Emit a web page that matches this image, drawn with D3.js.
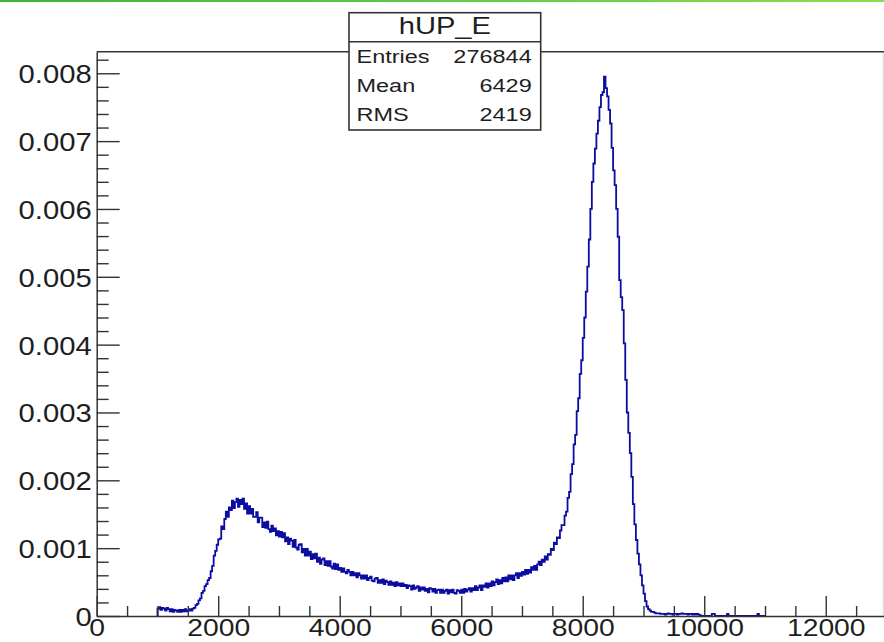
<!DOCTYPE html>
<html><head><meta charset="utf-8">
<script src="https://cdn.jsdelivr.net/npm/d3@7"></script>
<style>
body{margin:0;background:#fff;}
svg{display:block;}
text{font-family:"Liberation Sans",Arial,Helvetica,sans-serif;fill:#1e1e1e;}
</style>
</head><body><svg id="c" width="884" height="642"></svg>
<script>
// ---------- data ----------
const histTitle = "hUP_E";
const statLabels = ["Entries", "Mean", "RMS"];
const statValues = ["276844", "6429", "2419"];

const binStart = 1000;      // lower edge of first bin
const binWidth = 25;        // bin width
const valueUnit = 1e-5;     // binValues are in units of 1e-5

const binValues = [
  // 1000 - 1975
  11,13,9,12,11,8,12,10,7,10,6,9,8,6,9,6,9,7,10,7,8,10,8,11,12,16,18,23,26,34,37,44,47,53,56,66,74,89,96,105,
  // 2000 - 2975
  113,114,132,128,143,154,146,160,156,170,159,168,173,161,171,165,173,158,166,151,162,151,158,146,146,153,138,145,145,131,138,130,139,128,124,133,125,129,119,125,
  // 3000 - 3975
  117,124,116,122,110,116,106,114,111,102,112,101,98,105,106,94,99,89,99,89,95,84,91,85,92,80,86,77,83,85,75,81,74,81,73,70,77,69,76,68,
  // 4000 - 4975
  71,65,70,65,63,68,65,60,65,60,63,57,63,60,55,60,55,60,53,56,58,52,51,55,56,49,53,49,54,47,52,50,46,51,46,49,44,50,45,48,
  // 5000 - 5975
  44,48,44,46,41,45,44,39,45,40,42,44,37,42,39,42,37,40,35,41,40,36,40,34,38,39,34,39,34,37,39,33,38,35,39,34,33,38,37,34,
  // 6000 - 6975
  39,34,40,36,39,41,36,41,38,44,38,42,45,38,45,43,48,42,48,44,51,45,50,54,47,53,48,56,51,57,51,60,54,60,53,60,63,56,63,59,
  // 7000 - 7975
  65,61,68,62,68,64,72,68,74,68,76,80,75,83,80,88,83,91,90,99,97,108,106,116,115,126,134,134,148,154,174,183,209,224,253,267,302,321,357,377,
  // 8000 - 8975
  410,440,478,515,555,600,640,667,689,711,730,750,768,772,795,778,766,746,726,690,657,635,600,559,495,470,451,402,348,300,270,240,205,165,135,112,92,76,60,45,
  // 9000 - 9975
  33,22,14,10,8,6,6,5,4,4,4,3,3,3,2,3,4,3,3,2,3,3,2,3,3,4,3,3,3,2,3,3,2,3,2,3,2,1,0,0,
  // 10000 - 10975
  0,0,0,0,0,3,3,0,0,0,0,0,0,0,0,3,0,0,0,0,0,0,0,0,0,0,0,0,0,0,0,0,0,0,0,3,0,0,0,0
];

const xDomain = [0, 13000];
const yDomain = [0, 0.008318];
const xMajorTicks = [0, 2000, 4000, 6000, 8000, 10000, 12000];
const xTickLabels = ["0", "2000", "4000", "6000", "8000", "10000", "12000"];
const xMinorStep = 500;
const yMajorTicks = [0, 0.001, 0.002, 0.003, 0.004, 0.005, 0.006, 0.007, 0.008];
const yTickLabels = ["0", "0.001", "0.002", "0.003", "0.004", "0.005", "0.006", "0.007", "0.008"];
const yMinorStep = 0.0002;

// ---------- layout ----------
const W = 884, H = 642;
const frame = {left: 96.7, right: 886.5, top: 51.7, bottom: 616};
const axisColor = "#333";
const lineColor = "#0c0ca0";

const svg = d3.select("#c");

// green bar at top
const defs = svg.append("defs");
const grad = defs.append("linearGradient").attr("id", "gbar").attr("x1", "0").attr("x2", "1");
grad.append("stop").attr("offset", "0").attr("stop-color", "#3cb43a");
grad.append("stop").attr("offset", "1").attr("stop-color", "#86e052");
svg.append("rect").attr("x", 0).attr("y", 0).attr("width", W).attr("height", 2).attr("fill", "url(#gbar)");

const x = d3.scaleLinear().domain(xDomain).range([frame.left, frame.right]);
const y = d3.scaleLinear().domain(yDomain).range([frame.bottom, frame.top]);

// histogram
const pts = [[binStart, 0]];
binValues.forEach((v, i) => pts.push([binStart + i * binWidth, v * valueUnit]));
pts.push([binStart + binValues.length * binWidth, binValues[binValues.length - 1] * valueUnit]);

const line = d3.line().x(d => x(d[0])).y(d => y(d[1])).curve(d3.curveStepAfter);
svg.append("path").datum(pts)
  .attr("d", line)
  .attr("fill", "none")
  .attr("stroke", lineColor)
  .attr("stroke-width", 1.8)
  .attr("stroke-linejoin", "miter");

// frame top & right
svg.append("line").attr("x1", frame.left).attr("x2", frame.right)
  .attr("y1", frame.top).attr("y2", frame.top).attr("stroke", axisColor).attr("stroke-width", 1.5);
svg.append("line").attr("x1", 883.3).attr("x2", 883.3)
  .attr("y1", frame.top + 1).attr("y2", frame.bottom).attr("stroke", "#d4d4d4").attr("stroke-width", 1);

// x axis minor ticks
const xMinor = d3.range(xDomain[0], xDomain[1] + 1, xMinorStep).filter(v => !xMajorTicks.includes(v));
svg.append("g").attr("transform", `translate(0,${frame.bottom})`)
  .call(d3.axisBottom(x).tickValues(xMinor).tickSize(-10).tickSizeOuter(0).tickFormat(""))
  .call(g => { g.select(".domain").remove(); g.selectAll("line").attr("stroke", axisColor).attr("stroke-width", 1.4); });

// x axis major
const gx = svg.append("g").attr("transform", `translate(0,${frame.bottom})`)
  .call(d3.axisBottom(x).tickValues(xMajorTicks).tickSize(-20).tickSizeOuter(0).tickPadding(4)
    .tickFormat((d, i) => xTickLabels[i]));
gx.attr("font-size", 23).attr("font-family", null);
gx.select(".domain").attr("stroke", axisColor).attr("stroke-width", 1.5);
gx.selectAll("line").attr("stroke", axisColor).attr("stroke-width", 1.4);
gx.selectAll("text").attr("transform", "scale(1.23,1)").attr("fill", "#1e1e1e");

// y axis minor ticks
const yMinor = d3.range(0, yDomain[1], yMinorStep).filter(v => !yMajorTicks.some(t => Math.abs(t - v) < 1e-9));
svg.append("g").attr("transform", `translate(${frame.left},0)`)
  .call(d3.axisLeft(y).tickValues(yMinor).tickSize(-12).tickSizeOuter(0).tickFormat(""))
  .call(g => { g.select(".domain").remove(); g.selectAll("line").attr("stroke", axisColor).attr("stroke-width", 1.4); });

// y axis major
const gy = svg.append("g").attr("transform", `translate(${frame.left},0)`)
  .call(d3.axisLeft(y).tickValues(yMajorTicks).tickSize(-23).tickSizeOuter(0).tickPadding(4.3)
    .tickFormat((d, i) => yTickLabels[i]));
gy.attr("font-size", 25).attr("font-family", null);
gy.select(".domain").attr("stroke", axisColor).attr("stroke-width", 1.5);
gy.selectAll("line").attr("stroke", axisColor).attr("stroke-width", 1.4);
gy.selectAll("text").attr("transform", "scale(1.17,1)").attr("dy", "0.38em").attr("fill", "#1e1e1e");

// stats box
const box = {x: 349, y: 12.7, w: 191.7, h: 117.3, titleH: 29};
const sb = svg.append("g");
sb.append("rect").attr("x", box.x).attr("y", box.y).attr("width", box.w).attr("height", box.h)
  .attr("fill", "#fff").attr("stroke", axisColor).attr("stroke-width", 1.6);
sb.append("line").attr("x1", box.x).attr("x2", box.x + box.w)
  .attr("y1", box.y + box.titleH).attr("y2", box.y + box.titleH)
  .attr("stroke", axisColor).attr("stroke-width", 1.5);
sb.append("text").attr("transform", `translate(${box.x + box.w / 2},34) scale(1.24,1)`)
  .attr("text-anchor", "middle").attr("font-size", 23.5).text(histTitle);
const rowY = [63, 92, 121];
statLabels.forEach((lab, i) => {
  sb.append("text").attr("transform", `translate(${box.x + 7.5},${rowY[i]}) scale(1.27,1)`)
    .attr("font-size", 18.5).text(lab);
  sb.append("text").attr("transform", `translate(${box.x + box.w - 9},${rowY[i]}) scale(1.27,1)`)
    .attr("text-anchor", "end").attr("font-size", 18.5).text(statValues[i]);
});
</script>
</body></html>
